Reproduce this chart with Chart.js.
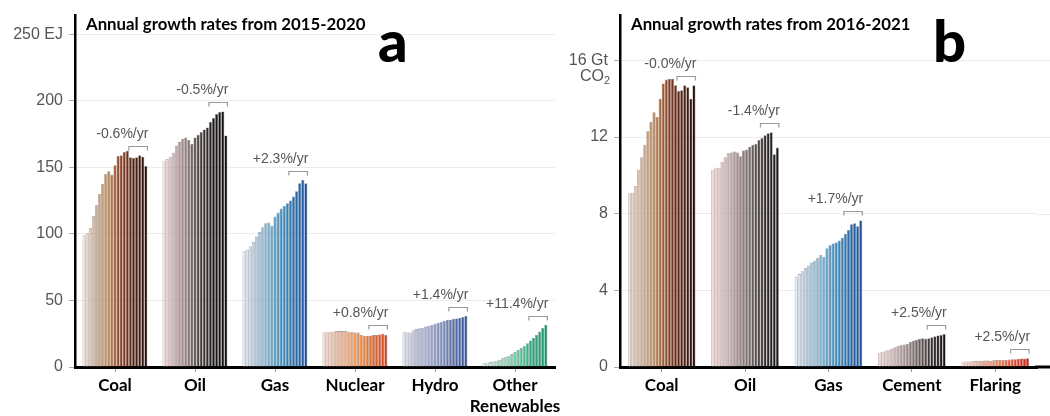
<!DOCTYPE html>
<html>
<head>
<meta charset="utf-8">
<script src="https://cdn.jsdelivr.net/npm/chart.js@4.4.1/dist/chart.umd.min.js"></script>
<style>
  html, body { margin: 0; padding: 0; background: #fff; }
  #wrap { position: relative; width: 1050px; height: 416px; overflow: hidden; }
  .panel { position: absolute; top: 0; height: 416px; }
  #pa { left: 0; width: 600px; }
  #pb { left: 540px; width: 510px; }
  .title { position: absolute; font-family: Lato, sans-serif; font-weight: 700; font-size: 16.8px; line-height: 1; color: #000; white-space: nowrap; }
  .letter { position: absolute; font-family: Lato, sans-serif; font-weight: 900; font-size: 58px; line-height: 1; color: #000; }
  .unit { position: absolute; font-family: "Liberation Sans", Arial, sans-serif; font-size: 16px; line-height: 1; color: #555; text-align: right; }
  .unit sub { font-size: 11px; vertical-align: -3px; }
</style>
</head>
<body>
<div id="wrap">
  <div class="panel" id="pa"><canvas id="chartA"></canvas></div>
  <div class="panel" id="pb"><canvas id="chartB"></canvas></div>
  <div class="title" style="left:86px;top:16px;">Annual growth rates from 2015-2020</div>
  <div class="title" style="left:631px;top:16px;">Annual growth rates from 2016-2021</div>
  <div class="letter" style="left:378px;top:11px;">a</div>
  <div class="letter" style="left:933px;top:11px;">b</div>
  <div class="unit" style="left:560px;top:68px;width:50px;">CO<sub>2</sub></div>
</div>

<script>
/* ---- Panel a: primary energy (EJ), 2000-2020 ---- */
const yearsA = [2000, 2001, 2002, 2003, 2004, 2005, 2006, 2007, 2008, 2009, 2010,
                2011, 2012, 2013, 2014, 2015, 2016, 2017, 2018, 2019, 2020];
const catsA  = ['Coal', 'Oil', 'Gas', 'Nuclear', 'Hydro', ['Other', 'Renewables']];
const coalA    = [99, 100.5, 104.5, 113.5, 121.5, 130, 137.5, 145, 147, 144.5, 151.5, 158.5, 159, 161.5, 162.5, 157.5, 157, 157.5, 159, 158, 151];
const oilA     = [155, 156, 157.5, 161, 166.5, 169, 171.5, 172.5, 170.5, 167.5, 172.5, 174.5, 176.5, 178.5, 180, 184, 187, 190, 191.5, 192, 174];
const gasA     = [87, 88, 90.5, 94, 98, 101.5, 105, 108, 108.5, 106, 113, 116, 119, 121, 123, 125, 128, 132, 138, 140.5, 138];
const nuclearA = [26, 26.5, 26.5, 26.5, 27, 27, 27, 27, 26.5, 26.5, 26, 26, 24, 23.5, 23.5, 23.5, 24, 24, 24.5, 25, 24];
const hydroA   = [26.5, 26, 26, 27.7, 28.5, 29.2, 29.5, 30.5, 30.8, 31.5, 32.5, 33.3, 34, 34.8, 35.5, 35.5, 36.2, 36.5, 37, 37.5, 38.3];
const renewA   = [3, 3.2, 3.7, 4.2, 4.7, 5.5, 6.5, 7.5, 8.5, 9.7, 11.2, 12.7, 14.2, 15.9, 17.9, 19.9, 21.9, 24.1, 26.6, 29.3, 31.8];
const ratesA   = ['-0.6%/yr', '-0.5%/yr', '+2.3%/yr', '+0.8%/yr', '+1.4%/yr', '+11.4%/yr'];
const ticksA   = [0, 50, 100, 150, 200, 250];

/* ---- Panel b: CO2 emissions (Gt), 2000-2021 ---- */
const yearsB = [2000, 2001, 2002, 2003, 2004, 2005, 2006, 2007, 2008, 2009, 2010,
                2011, 2012, 2013, 2014, 2015, 2016, 2017, 2018, 2019, 2020, 2021];
const catsB  = ['Coal', 'Oil', 'Gas', 'Cement', 'Flaring'];
const coalB    = [9.05, 9.1, 9.45, 10.3, 10.95, 11.6, 12.3, 12.8, 13.3, 13.05, 14.0, 14.8, 15.0, 15.05, 15.05, 14.7, 14.4, 14.45, 14.7, 14.6, 14.0, 14.7];
const oilB     = [10.3, 10.4, 10.4, 10.7, 10.95, 11.15, 11.2, 11.25, 11.2, 11.0, 11.3, 11.35, 11.5, 11.6, 11.65, 11.85, 11.95, 12.1, 12.2, 12.25, 11.1, 11.45];
const gasB     = [4.72, 4.85, 5.0, 5.15, 5.3, 5.45, 5.55, 5.7, 5.85, 5.75, 6.2, 6.35, 6.45, 6.5, 6.6, 6.75, 6.95, 7.15, 7.45, 7.5, 7.35, 7.65];
const cementB  = [0.75, 0.8, 0.85, 0.9, 0.97, 1.03, 1.1, 1.15, 1.17, 1.2, 1.3, 1.37, 1.42, 1.47, 1.5, 1.48, 1.5, 1.55, 1.6, 1.65, 1.67, 1.72];
const flaringB = [0.28, 0.29, 0.29, 0.3, 0.31, 0.32, 0.33, 0.34, 0.34, 0.33, 0.35, 0.36, 0.37, 0.37, 0.38, 0.39, 0.4, 0.41, 0.43, 0.45, 0.44, 0.46];
const ratesB   = ['-0.0%/yr', '-1.4%/yr', '+1.7%/yr', '+2.5%/yr', '+2.5%/yr'];
const ticksB   = [0, 4, 8, 12, 16];

/* colour ramps, light (first year) -> dark (last year) */
const RAMP = {
  coal   : ['#f3e2d8', '#cdb096', '#be8650', '#8e3c1c', '#56200f', '#2a0f07'],
  oil    : ['#f6dcdc', '#c4aaaa', '#857272', '#433a3a', '#1a1818', '#0d0d0d'],
  gas    : ['#dfe9f4', '#b0d0e4', '#72b0d4', '#3a92c6', '#2274b8', '#1350a8'],
  nuclear: ['#f8d9d0', '#f4c2a8', '#f2a46e', '#f0863a', '#ea6420', '#e03c12'],
  hydro  : ['#dde0f2', '#bcc3e2', '#9ca8d2', '#7a8cc2', '#5570b2', '#2f52a2'],
  renew  : ['#d2efe0', '#b0e4cb', '#84d6b2', '#4cc494', '#20ad7c', '#0f9866'],
  cement : ['#f6d8d8', '#d2b8b8', '#a38d8d', '#6a5e5e', '#373131', '#161616'],
  flaring: ['#f9d8d2', '#f6b9a6', '#f39674', '#f06c42', '#e8401e', '#e0140e'],
};

function hexRgb(h) {
  return [1, 3, 5].map(i => parseInt(h.substr(i, 2), 16));
}

function ramp(stops, t) {
  const p = t * (stops.length - 1);
  const i = Math.min(Math.floor(p), stops.length - 2);
  const f = p - i;
  const a = hexRgb(stops[i]), b = hexRgb(stops[i + 1]);
  const c = a.map((v, k) => Math.round(v + (b[k] - v) * f));
  return `rgb(${c[0]},${c[1]},${c[2]})`;
}

/* bracket + growth label over the last six bars of each group */
const rateLabels = {
  id: 'rateLabels',
  afterDatasetsDraw(chart, args, opts) {
    const ctx = chart.ctx;
    const n = chart.data.datasets.length;
    const first = n - 6;
    ctx.save();
    opts.rates.forEach((txt, i) => {
      let top = Infinity, left = 0, right = 0;
      for (let d = first; d < n; d++) {
        const bar = chart.getDatasetMeta(d).data[i];
        top = Math.min(top, bar.y);
        if (d === first) left = bar.x - bar.width / 2;
        if (d === n - 1) right = bar.x + bar.width / 2;
      }
      const by = Math.round(top - 9) + 0.5;
      ctx.strokeStyle = '#9a9a9a';
      ctx.lineWidth = 1.2;
      ctx.beginPath();
      ctx.moveTo(left, by + 4);
      ctx.lineTo(left, by);
      ctx.lineTo(right, by);
      ctx.lineTo(right, by + 4);
      ctx.stroke();
      ctx.fillStyle = '#555';
      ctx.font = '14px "Liberation Sans", Arial, sans-serif';
      ctx.textAlign = 'right';
      ctx.textBaseline = 'middle';
      ctx.fillText(txt, right + 1, by - 12);
    });
    ctx.restore();
  }
};

/* carry grid lines and the base line on to the canvas edge */
const extendLines = {
  id: 'extendLines',
  beforeDatasetsDraw(chart, args, opts) {
    if (!opts.on) return;
    const { ctx, chartArea } = chart;
    const y = chart.scales.y;
    ctx.save();
    ctx.strokeStyle = '#ececec';
    ctx.lineWidth = 1;
    y.ticks.forEach(t => {
      if (t.value === 0) return;
      const py = Math.round(y.getPixelForValue(t.value)) + 0.5;
      ctx.beginPath(); ctx.moveTo(chartArea.right, py); ctx.lineTo(chart.width, py); ctx.stroke();
    });
    ctx.strokeStyle = '#000';
    ctx.lineWidth = 3;
    ctx.beginPath(); ctx.moveTo(chartArea.right - 2, chartArea.bottom); ctx.lineTo(chart.width, chartArea.bottom); ctx.stroke();
    ctx.restore();
  }
};

function buildChart(id, cats, years, series, ramps, rates, ticks, yMax, topLabel, axisW, padRight, extend) {
  const n = years.length;
  const datasets = years.map((yr, j) => ({
    label: String(yr),
    data: series.map(s => s[j]),
    backgroundColor: ramps.map(r => ramp(r, j / (n - 1))),
    borderColor: 'rgba(35,20,20,0.5)',
    borderWidth: 0.6,
    categoryPercentage: 0.81,
    barPercentage: 1.0,
  }));
  const top = ticks[ticks.length - 1];

  return new Chart(document.getElementById(id).getContext('2d'), {
    type: 'bar',
    data: { labels: cats, datasets },
    plugins: [extendLines, rateLabels],
    options: {
      responsive: true,
      maintainAspectRatio: false,
      animation: false,
      layout: { padding: { top: 12, right: padRight, left: 0, bottom: 0 } },
      plugins: {
        legend: { display: false },
        tooltip: { enabled: false },
        rateLabels: { rates },
        extendLines: { on: extend },
      },
      scales: {
        x: {
          offset: true,
          grid: { display: true, offset: false, drawOnChartArea: false, tickLength: 5, color: '#9a9a9a' },
          border: { display: true, color: '#000', width: 3 },
          ticks: {
            color: '#000', padding: 3, maxRotation: 0, autoSkip: false,
            font: { family: 'Lato', weight: 'bold', size: 17, lineHeight: 1.25 },
          },
          afterFit: s => { s.height = 49; },
        },
        y: {
          min: 0, max: yMax,
          afterBuildTicks: s => { s.ticks = ticks.map(v => ({ value: v })); },
          grid: { color: '#ececec', tickColor: '#aaa', tickLength: 6 },
          border: { color: '#000', width: 2.5 },
          ticks: {
            color: '#555', padding: 6,
            font: { family: 'Liberation Sans', size: 16 },
            callback: v => (v === top ? topLabel : v),
          },
          afterFit: s => { s.width = axisW; },
        },
      },
    },
  });
}

buildChart('chartA', catsA, yearsA,
  [coalA, oilA, gasA, nuclearA, hydroA, renewA],
  [RAMP.coal, RAMP.oil, RAMP.gas, RAMP.nuclear, RAMP.hydro, RAMP.renew],
  ratesA, ticksA, 264, '250 EJ', 75, 45, false);

buildChart('chartB', catsB, yearsB,
  [coalB, oilB, gasB, cementB, flaringB],
  [RAMP.coal, RAMP.cement, RAMP.gas, RAMP.cement, RAMP.flaring],
  ratesB, ticksB, 18.34, '16 Gt', 80, 13, true);
</script>
</body>
</html>
